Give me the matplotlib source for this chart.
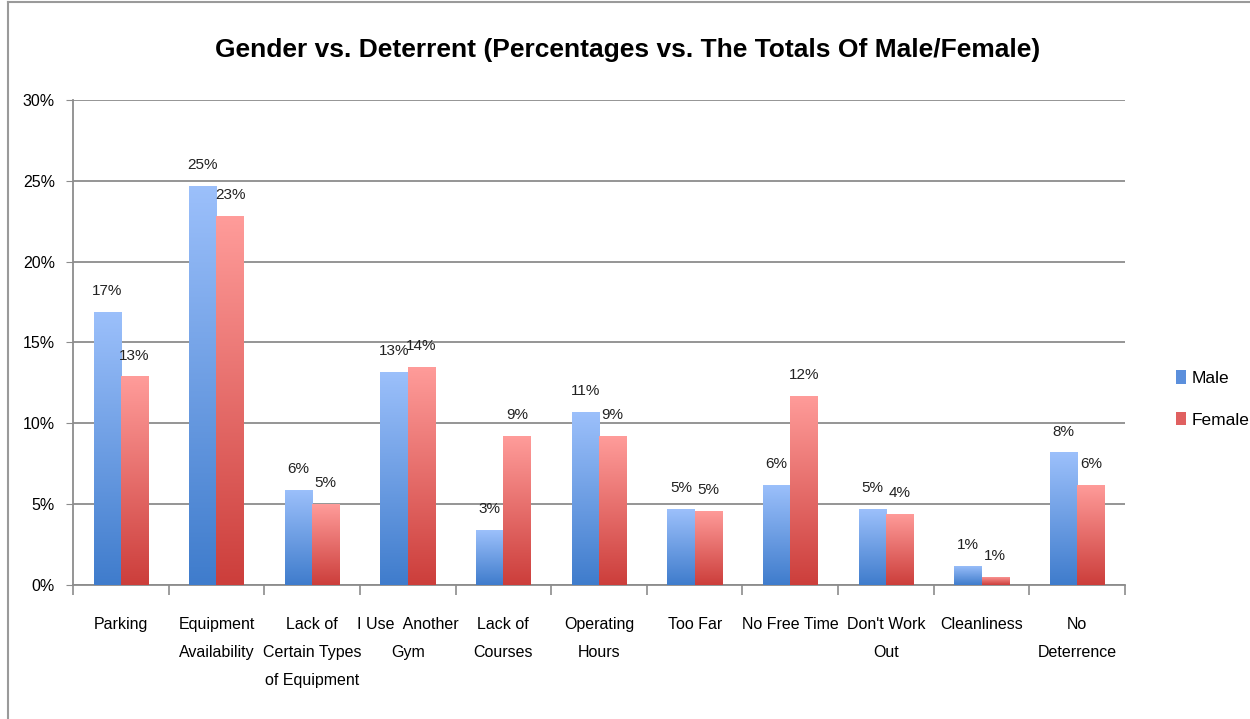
import numpy as np
import matplotlib
matplotlib.use("Agg")
import matplotlib.pyplot as plt
from matplotlib.colors import LinearSegmentedColormap
from matplotlib.lines import Line2D
from matplotlib.patches import Patch

plt.rcParams['font.family'] = ['Liberation Sans Narrow', 'Liberation Sans', 'DejaVu Sans']

categories = ["Parking", "Equipment\nAvailability", "Lack of\nCertain Types\nof Equipment",
              "I Use  Another\nGym", "Lack of\nCourses", "Operating\nHours", "Too Far",
              "No Free Time", "Don't Work\nOut", "Cleanliness", "No\nDeterrence"]
male = [16.9, 24.7, 5.9, 13.2, 3.4, 10.7, 4.7, 6.2, 4.7, 1.2, 8.2]
female = [12.9, 22.8, 5.0, 13.5, 9.2, 9.2, 4.6, 11.7, 4.4, 0.5, 6.2]
male_labels = ["17%", "25%", "6%", "13%", "3%", "11%", "5%", "6%", "5%", "1%", "8%"]
female_labels = ["13%", "23%", "5%", "14%", "9%", "9%", "5%", "12%", "4%", "1%", "6%"]

male_cmap = LinearSegmentedColormap.from_list("m", ["#3f7ccc", "#9cc0fb"])
female_cmap = LinearSegmentedColormap.from_list("f", ["#cc3e3b", "#ff9c9a"])

fig = plt.figure(figsize=(12.5, 7.19), dpi=100)
ax = fig.add_axes([0.0584, 0.1864, 0.8416, 0.6746])

x = np.arange(len(categories))
w = 0.285

def gradient_bars(xs, vals, cmap):
    bars = ax.bar(xs, vals, w, color="none", edgecolor="none", zorder=3)
    grad = np.linspace(0, 1, 256).reshape(-1, 1)
    for b in bars:
        bx, bw, bh = b.get_x(), b.get_width(), b.get_height()
        im = ax.imshow(grad, cmap=cmap, aspect="auto", origin="lower",
                       extent=[bx, bx + bw, 0, bh], zorder=3)
        im.set_clip_path(b)
    return bars

gradient_bars(x - w / 2, male, male_cmap)
gradient_bars(x + w / 2, female, female_cmap)
ax.set_xlim(-0.5, len(categories) - 0.5)
ax.set_ylim(0, 30)

for xs, vals, labs in [(x - w / 2, male, male_labels), (x + w / 2, female, female_labels)]:
    for xi, v, lab in zip(xs, vals, labs):
        ax.annotate(lab, (xi, v), xytext=(0, 10), textcoords="offset points",
                    ha="center", va="bottom", fontsize=11, color="#222222")

ax.set_yticks(np.arange(0, 31, 5))
ax.set_yticklabels([f"{t}%" for t in range(0, 31, 5)], fontsize=11.5)
ax.yaxis.grid(True, color="#8c8c8c", linewidth=1.3)
ax.set_axisbelow(True)
ax.tick_params(axis="y", length=5, color="#8c8c8c", pad=8)

ax.set_xticks(x)
ax.set_xticklabels(categories, fontsize=11.5, linespacing=2.1, va="top")
ax.tick_params(axis="x", length=0, pad=23)
ax.set_xticks(np.arange(-0.5, len(categories), 1), minor=True)
ax.tick_params(axis="x", which="minor", length=7, color="#8c8c8c", width=1.2)

for s in ["top", "right"]:
    ax.spines[s].set_visible(False)
for s in ["left", "bottom"]:
    ax.spines[s].set_color("#8c8c8c")
    ax.spines[s].set_linewidth(1.3)

fig.text(0.502, 0.93, "Gender vs. Deterrent (Percentages vs. The Totals Of Male/Female)",
         ha="center", va="center", fontsize=19, fontweight="bold")

handles = [Patch(facecolor="#5b8fdc"), Patch(facecolor="#e06060")]
fig.legend(handles, ["Male", "Female"], loc="center left", bbox_to_anchor=(0.928, 0.445),
           frameon=False, fontsize=12.5, handlelength=0.6, handleheight=0.8,
           handletextpad=0.3, labelspacing=1.5)

fig.add_artist(Line2D([0.0064, 0.0064], [0, 0.997], color="#9a9a9a", linewidth=1.5))
fig.add_artist(Line2D([0.0064, 1], [0.997, 0.997], color="#9a9a9a", linewidth=1.5))

fig.savefig("out.png", dpi=100)
